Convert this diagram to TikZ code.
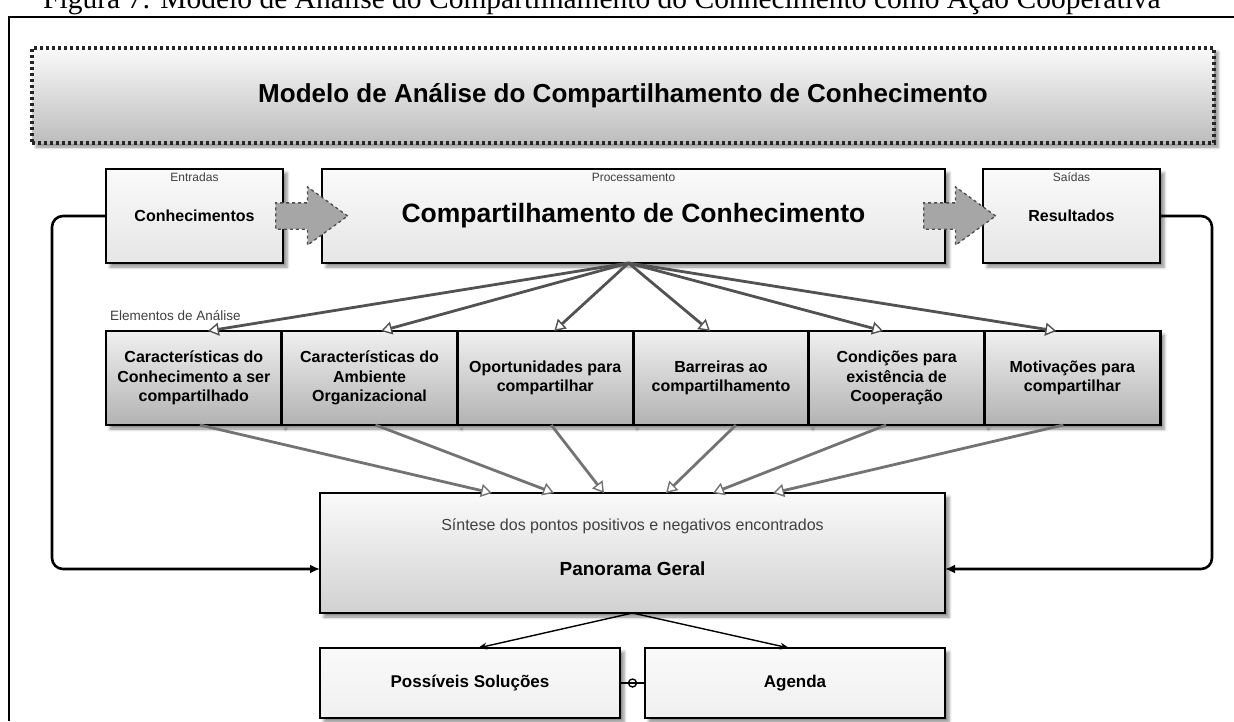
\documentclass[tikz,border=0pt]{standalone}
\usepackage{fontspec}
\setmainfont{Liberation Serif}
\setsansfont{Liberation Sans}
\usetikzlibrary{arrows.meta,shapes.arrows,shadows.blur,positioning}
\tikzstyle{mdlbox} = [draw, line width=2.8pt, top color=black!2, bottom color=black!10, blur shadow={shadow xshift=4pt, shadow yshift=-4pt, shadow blur radius=3pt, shadow opacity=45}, inner sep=2pt, outer sep=0pt, align=center, font=\sffamily\bfseries\fontsize{16}{19.5}\selectfont]
\tikzstyle{mdlstage} = [mdlbox, minimum height=94pt]
\tikzstyle{mdlelem} = [mdlbox, top color=black!6, bottom color=black!30, minimum width=175.7pt, minimum height=94pt]
\tikzstyle{mdltitle} = [mdlbox, draw=black!85, line width=3.2pt, dash pattern=on 3pt off 3pt, top color=black!2, bottom color=black!26, minimum width=1182pt, minimum height=95pt, font=\sffamily\bfseries\fontsize{26}{30}\selectfont]
\tikzstyle{mdlcap} = [font=\sffamily\fontsize{12}{14}\selectfont, text=black!75, inner sep=0pt]
\tikzstyle{mdlpush} = [single arrow, draw=black!70, dashed, line width=1.3pt, fill=black!35, inner sep=12.5pt, single arrow head extend=16pt, single arrow tip angle=72, minimum height=72pt, anchor=tail]
\tikzstyle{mdlfan} = [draw=black!68, line width=2.8pt, -{Triangle[open, fill=white, length=11pt, width=13pt, line width=1.4pt]}]
\tikzstyle{mdlsum} = [mdlfan, draw=black!55]
\tikzstyle{mdlback} = [draw, line width=2.6pt, rounded corners=11pt, -{Latex[length=10pt, width=9pt]}]
\tikzstyle{mdlout} = [draw, line width=1.4pt, -{Stealth[length=9pt, width=7pt]}]
\newcommand{\stagebox}[6]{
  \node[mdlstage, minimum width=#4] (#1) at (#2,#3) {#6};
  \node[mdlcap] (#1-cap) at ([yshift=-8pt]#1.north) {#5};
}
\newcommand{\fanlink}[4]{
\draw[mdlfan] ([xshift=#2]#1) -- ([xshift=#4]#3);
}
\newcommand{\sumlink}[4]{
\draw[mdlsum] ([xshift=#2]#1) -- ([xshift=#4]#3);
}

\begin{document}
\begin{tikzpicture}[x=1pt, y=-1pt]
\useasboundingbox (0,0) rectangle (1234,721);
\begin{scope}
\clip (0,0) rectangle (1234,721);
\node[anchor=base west, inner sep=0pt, font=\fontsize{29.5}{31}\selectfont] (fig) at (43,8) {Figura 7: Modelo de Análise do Compartilhamento do Conhecimento como Ação Cooperativa};
\end{scope}
\draw[line width=2.4pt] (9,721) -- (9,17) -- (1234,17);

\node[mdltitle] (title) at (623,95.5) {Modelo de Análise do Compartilhamento de Conhecimento};

\stagebox{con}{194.5}{216}{177pt}{Entradas}{Conhecimentos}
\stagebox{cmp}{633.5}{216}{623pt}{Processamento}{\fontsize{26.5}{30}\selectfont Compartilhamento de Conhecimento}
\stagebox{res}{1071.5}{216}{177pt}{Saídas}{Resultados}
\node[mdlpush] (push1) at (275,216) {};
\node[mdlpush] (push2) at (923,216) {};

\node[mdlelem, anchor=north west] (e1) at (106,331) {Características do\\Conhecimento a ser\\compartilhado};
\node[mdlelem, right=0pt of e1] (e2) {Características do\\Ambiente\\Organizacional};
\node[mdlelem, right=0pt of e2] (e3) {Oportunidades para\\compartilhar};
\node[mdlelem, right=0pt of e3] (e4) {Barreiras ao\\compartilhamento};
\node[mdlelem, right=0pt of e4] (e5) {Condições para\\existência de\\Cooperação};
\node[mdlelem, right=0pt of e5] (e6) {Motivações para\\compartilhar};
\node[mdlcap, anchor=south west, font=\sffamily\fontsize{13.5}{15}\selectfont] (elab) at ([xshift=4pt, yshift=10pt]e1.north west) {Elementos de Análise};

\node[mdlbox, top color=black!2, bottom color=black!18, minimum width=625pt, minimum height=120pt, anchor=north] (pan) at (632.5,493) {};
\node[mdlcap, font=\sffamily\fontsize{16}{18}\selectfont] (syn) at ([yshift=-33pt]pan.north) {Síntese dos pontos positivos e negativos encontrados};
\node[font=\sffamily\bfseries\fontsize{19}{22}\selectfont] (pg) at ([yshift=-16pt]pan.center) {Panorama Geral};

\node[mdlbox, top color=black!2, bottom color=black!6, minimum width=300pt, minimum height=70pt, anchor=north west, font=\sffamily\bfseries\fontsize{17}{20}\selectfont] (sol) at (320,648) {Possíveis Soluções};
\node[mdlbox, top color=black!2, bottom color=black!6, minimum width=300pt, minimum height=70pt, anchor=north east, font=\sffamily\bfseries\fontsize{17}{20}\selectfont] (agd) at (945,648) {Agenda};

\fanlink{cmp.south}{-5pt}{e1.north}{14pt}
\fanlink{cmp.south}{-5pt}{e2.north}{11.5pt}
\fanlink{cmp.south}{-5pt}{e3.north}{9pt}
\fanlink{cmp.south}{-5pt}{e4.north}{-11pt}
\fanlink{cmp.south}{-5pt}{e5.north}{-13.5pt}
\fanlink{cmp.south}{-5pt}{e6.north}{-16pt}

\sumlink{e1.south}{6pt}{pan.north}{-140.5pt}
\sumlink{e2.south}{6pt}{pan.north}{-78.5pt}
\sumlink{e3.south}{6pt}{pan.north}{-28.5pt}
\sumlink{e4.south}{15pt}{pan.north}{33.5pt}
\sumlink{e5.south}{-10.5pt}{pan.north}{80.5pt}
\sumlink{e6.south}{-9pt}{pan.north}{140.5pt}

\draw[mdlback] (con.west) -- ++(-54,0) |- ([yshift=-16pt]pan.west);
\draw[mdlback] (res.east) -- ++(52,0) |- ([yshift=-16pt]pan.east);

\draw[mdlout] (pan.south) -- ([xshift=8pt]sol.north);
\draw[mdlout] (pan.south) -- ([xshift=-6pt]agd.north);
\draw[line width=1.5pt] (sol.east) -- (agd.west) node[midway, circle, draw, inner sep=0pt, minimum size=8pt, line width=1.4pt] (lnk) {};
\end{tikzpicture}
\end{document}
